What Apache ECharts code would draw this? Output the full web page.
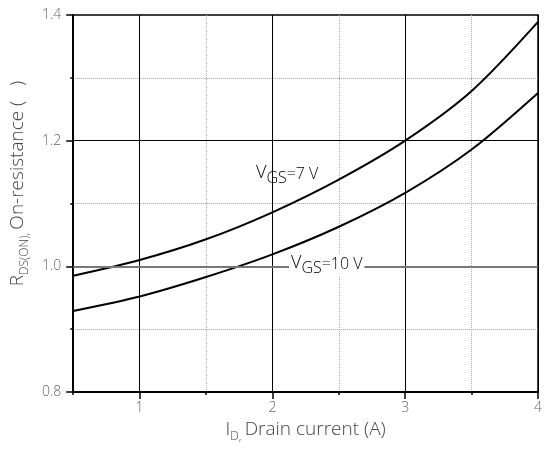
<!DOCTYPE html>
<html>
<head>
<meta charset="utf-8">
<script src="https://cdn.jsdelivr.net/npm/echarts@6/dist/echarts.min.js"></script>
<style>
  html, body { margin: 0; padding: 0; background: #fff; }
  #chart { width: 547px; height: 450px; }
</style>
</head>
<body>
<div id="chart"></div>
<script>
// drain current (A)
var currents = [0.5, 1, 1.5, 2, 2.5, 3, 3.5, 4];
// on-resistance (ohm), VGS = 7 V and VGS = 10 V
var rVgs7 = [0.985, 1.010, 1.043, 1.086, 1.138, 1.200, 1.279, 1.389];
var rVgs10 = [0.929, 0.952, 0.983, 1.019, 1.063, 1.117, 1.186, 1.276];
var xMajor = [1, 2, 3, 4];

var font = "Open Sans";
var chart = echarts.init(document.getElementById("chart"));

function pairs(xs, ys) {
  return xs.map(function (x, i) { return [x, ys[i]]; });
}

var subRich = {
  v: { fontFamily: font, fontWeight: 300, fontSize: 18, color: "#555", verticalAlign: "bottom", padding: [0, 0, 4, 0] },
  n: { fontFamily: font, fontWeight: 300, fontSize: 16, color: "#555", verticalAlign: "bottom", padding: [0, 0, 4, 0] },
  s: { fontFamily: font, fontWeight: 300, fontSize: 16, color: "#555", verticalAlign: "bottom" }
};
var nameRich = {
  n: { fontFamily: font, fontWeight: 300, fontSize: 19, color: "#444", verticalAlign: "top" },
  s: { fontFamily: font, fontWeight: 300, fontSize: 12, color: "#444", verticalAlign: "top", padding: [11, 0, 0, 0] }
};

var option = {
  animation: false,
  backgroundColor: "#fff",
  grid: {
    left: 73, right: 9, top: 15, bottom: 58,
    show: true, borderColor: "#000", borderWidth: 1.5, backgroundColor: "transparent"
  },
  xAxis: [
    {
      type: "value", min: 0.5, max: 4, interval: 0.5,
      name: "{n|I}{s|D,} {n|Drain current (A)}",
      nameLocation: "middle", nameGap: 26,
      nameTextStyle: { rich: nameRich },
      axisLine: { lineStyle: { color: "#000", width: 2 } },
      axisTick: { customValues: xMajor, length: 7, lineStyle: { color: "#000", width: 1.5 } },
      axisLabel: {
        customValues: xMajor, margin: 9,
        fontFamily: font, fontWeight: 300, fontSize: 14, color: "#666"
      },
      splitLine: { show: true, lineStyle: { color: "#000", width: 1 } }
    },
    {
      type: "value", min: 0.5, max: 4, interval: 0.5, position: "bottom",
      axisLine: { show: false },
      axisTick: { length: 3, lineStyle: { color: "#000", width: 1.5 } },
      axisLabel: { show: false },
      splitLine: { show: true, lineStyle: { color: ["#aaa", "transparent"], type: "dotted", width: 1 } }
    }
  ],
  yAxis: {
    type: "value", min: 0.8, max: 1.4, interval: 0.2,
    name: "{n|R}{s|DS(ON),} {n|On-resistance (   )}",
    nameLocation: "middle", nameGap: 39, nameRotate: 90,
    nameTextStyle: { padding: [0, 0, 0, 40], rich: nameRich },
    axisLine: { show: true, lineStyle: { color: "#000", width: 2 } },
    axisTick: { show: true, length: 7, lineStyle: { color: "#000", width: 1.5 } },
    minorTick: { show: true, splitNumber: 2, length: 3, lineStyle: { color: "#000", width: 1.5 } },
    axisLabel: {
      margin: 12, fontFamily: font, fontWeight: 300, fontSize: 14, color: "#666",
      formatter: function (v) { return v.toFixed(1); }
    },
    splitLine: { show: true, lineStyle: { color: ["transparent", "transparent", "#000", "transparent"], width: 1 } },
    minorSplitLine: { show: true, lineStyle: { color: "#999", type: "dotted", width: 1 } }
  },
  series: [
    {
      name: "VGS=7 V", type: "line", smooth: 0.3, showSymbol: false,
      data: pairs(currents, rVgs7),
      lineStyle: { color: "#000", width: 2 }
    },
    {
      name: "VGS=10 V", type: "line", smooth: 0.3, showSymbol: false,
      data: pairs(currents, rVgs10),
      lineStyle: { color: "#000", width: 2 },
      markLine: {
        silent: true, symbol: "none", label: { show: false },
        lineStyle: { color: "#777", width: 2, type: "solid" },
        data: [{ yAxis: 1.0 }]
      }
    }
  ],
  graphic: [
    {
      type: "text", left: 256, top: 164, z: 100,
      style: { text: "{v|V}{s|GS}{n|=7 V}", rich: subRich }
    },
    {
      type: "text", left: 289, top: 254, z: 100,
      style: {
        text: "{v|V}{s|GS}{n|=10 V}", rich: subRich,
        backgroundColor: "#fff", padding: [0, 2, 0, 2]
      }
    }
  ]
};

chart.setOption(option);
</script>
</body>
</html>
